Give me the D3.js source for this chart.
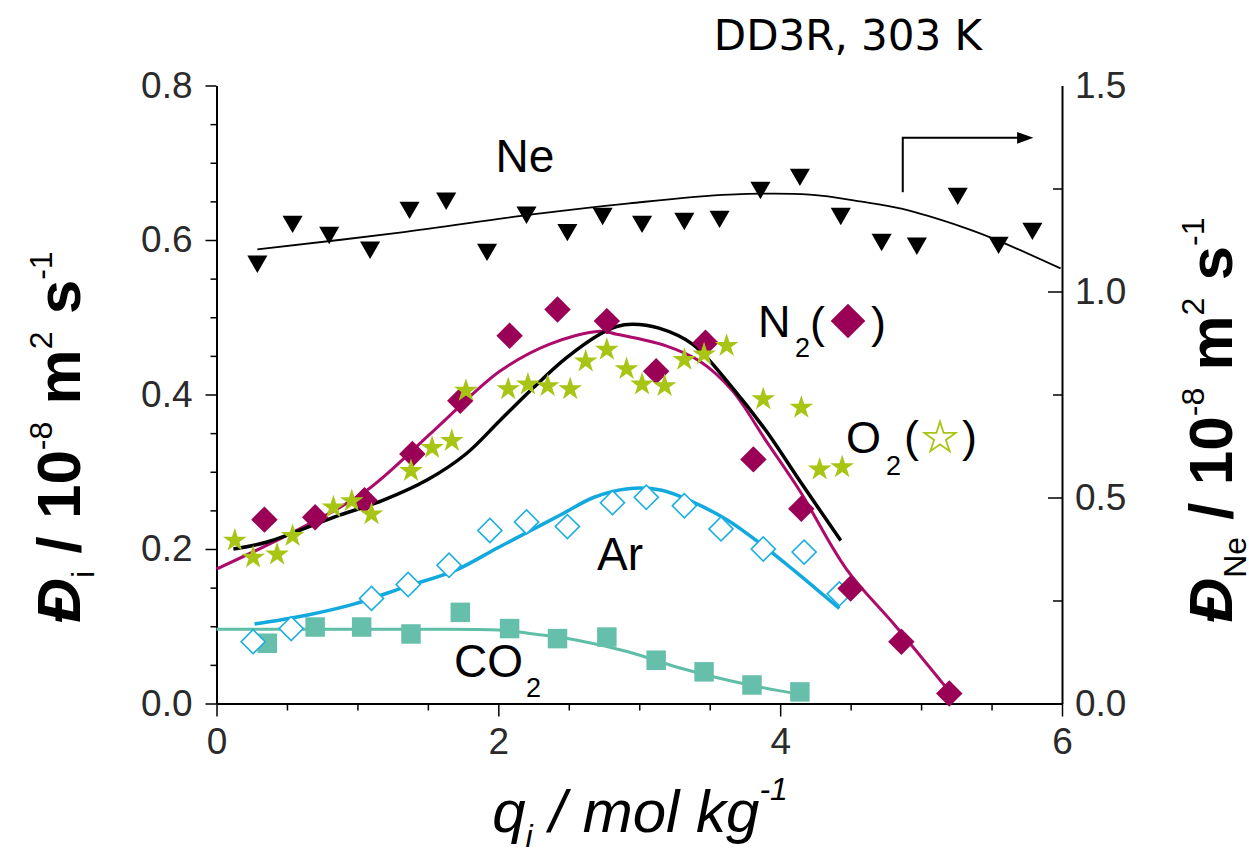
<!DOCTYPE html>
<html>
<head>
<meta charset="utf-8">
<script src="https://cdn.jsdelivr.net/npm/d3@7"></script>
<style>
  body { margin: 0; background: #fff; }
  svg { display: block; }
</style>
</head>
<body>
<svg></svg>
<script>
// Ne (right axis), triangles
const neX = [0.29, 0.54, 0.80, 1.09, 1.37, 1.63, 1.92, 2.20, 2.49, 2.74, 3.02, 3.32, 3.57, 3.86, 4.14, 4.43, 4.72, 4.97, 5.26, 5.55, 5.79];
const neY = [1.073, 1.170, 1.143, 1.107, 1.204, 1.226, 1.102, 1.192, 1.150, 1.189, 1.170, 1.177, 1.182, 1.252, 1.284, 1.189, 1.126, 1.117, 1.238, 1.119, 1.153];
const neLineX = [0.29, 1.30, 2.24, 2.93, 3.64, 4.21, 4.58, 4.86, 5.29, 5.53, 5.99];
const neLineY = [1.102, 1.143, 1.187, 1.214, 1.235, 1.235, 1.218, 1.201, 1.157, 1.126, 1.056];

// N2, filled diamonds
const n2X = [0.34, 0.70, 1.05, 1.39, 1.73, 2.08, 2.42, 2.77, 3.12, 3.47, 3.81, 4.15, 4.50, 4.86, 5.20];
const n2Y = [0.238, 0.241, 0.263, 0.323, 0.392, 0.476, 0.510, 0.495, 0.430, 0.467, 0.316, 0.252, 0.149, 0.080, 0.013];
const n2LineX = [0.0, 0.59, 1.06, 1.54, 2.01, 2.36, 2.72, 2.84, 3.19, 3.43, 3.66, 3.90, 4.14, 4.47, 4.82, 5.23];
const n2LineY = [0.174, 0.226, 0.275, 0.353, 0.430, 0.465, 0.482, 0.478, 0.463, 0.443, 0.405, 0.340, 0.275, 0.174, 0.100, 0.009];

// O2, stars
const o2X = [0.13, 0.26, 0.43, 0.54, 0.83, 0.96, 1.10, 1.38, 1.53, 1.67, 1.77, 2.07, 2.21, 2.35, 2.51, 2.62, 2.77, 2.91, 3.02, 3.18, 3.32, 3.46, 3.62, 3.88, 4.15, 4.28, 4.44];
const o2Y = [0.211, 0.189, 0.193, 0.217, 0.254, 0.262, 0.245, 0.301, 0.331, 0.340, 0.405, 0.407, 0.413, 0.411, 0.407, 0.443, 0.458, 0.433, 0.413, 0.411, 0.445, 0.452, 0.463, 0.394, 0.383, 0.303, 0.306];
const o2LineX = [0.12, 0.36, 0.83, 1.18, 1.50, 1.77, 2.01, 2.25, 2.48, 2.72, 2.84, 2.95, 3.14, 3.38, 3.66, 3.90, 4.14, 4.43];
const o2LineY = [0.200, 0.209, 0.241, 0.263, 0.290, 0.323, 0.366, 0.409, 0.447, 0.478, 0.488, 0.491, 0.486, 0.465, 0.409, 0.353, 0.288, 0.211];

// Ar, open diamonds
const arX = [0.26, 0.53, 1.10, 1.36, 1.65, 1.94, 2.20, 2.49, 2.81, 3.05, 3.32, 3.58, 3.88, 4.17, 4.42];
const arY = [0.080, 0.097, 0.136, 0.154, 0.179, 0.224, 0.235, 0.229, 0.260, 0.267, 0.256, 0.226, 0.200, 0.196, 0.142];
const arLineX = [0.27, 0.63, 0.98, 1.34, 1.69, 2.00, 2.21, 2.45, 2.68, 2.92, 3.16, 3.39, 3.63, 3.86, 4.10, 4.31, 4.42];
const arLineY = [0.103, 0.114, 0.129, 0.151, 0.172, 0.202, 0.222, 0.245, 0.267, 0.278, 0.276, 0.260, 0.237, 0.207, 0.172, 0.140, 0.123];

// CO2, filled squares
const co2X = [0.36, 0.70, 1.03, 1.38, 1.73, 2.08, 2.42, 2.77, 3.12, 3.46, 3.80, 4.14];
const co2Y = [0.078, 0.099, 0.099, 0.090, 0.118, 0.097, 0.084, 0.086, 0.056, 0.041, 0.024, 0.015];
const co2LineX = [0.0, 1.34, 2.00, 2.21, 2.56, 2.92, 3.27, 3.63, 3.98, 4.19];
const co2LineY = [0.096, 0.096, 0.095, 0.091, 0.082, 0.067, 0.047, 0.030, 0.017, 0.011];

// ticks
const xMajor = [0, 2, 4, 6];
const xMinor = [0.5, 1, 1.5, 2.5, 3, 3.5, 4.5, 5, 5.5];
const yMajor = [0, 0.2, 0.4, 0.6, 0.8];
const yMinor = [0.05, 0.1, 0.15, 0.25, 0.3, 0.35, 0.45, 0.5, 0.55, 0.65, 0.7, 0.75];
const y2Major = [0, 0.5, 1.0, 1.5];
const y2Minor = [0.25, 0.75, 1.25];

const width = 1249, height = 866;
const margin = { top: 85.5, right: 187, bottom: 162.5, left: 216.5 };
const innerWidth = width - margin.left - margin.right;
const innerHeight = height - margin.top - margin.bottom;
const sans = '"Liberation Sans", Arial, sans-serif';

const svg = d3.select('svg').attr('width', width).attr('height', height);
const g = svg.append('g').attr('transform', `translate(${margin.left},${margin.top})`);

const xScale = d3.scaleLinear().domain([0, 6]).range([0, innerWidth]);
const yScale = d3.scaleLinear().domain([0, 0.8]).range([innerHeight, 0]);
const y2Scale = d3.scaleLinear().domain([0, 1.5]).range([innerHeight, 0]);

const zip = (xs, ys) => xs.map((x, i) => [x, ys[i]]);

// axes
const styleAxis = (sel) => {
  sel.attr('font-family', sans).attr('font-size', 37);
  sel.select('.domain').attr('stroke', '#000').attr('stroke-width', 2);
  sel.selectAll('.tick line').attr('stroke', '#000').attr('stroke-width', 1.5);
  sel.selectAll('.tick text').attr('fill', '#2a2a2a');
};
const minorTicks = (sel) => {
  sel.select('.domain').remove();
  sel.selectAll('line').attr('stroke', '#000').attr('stroke-width', 1.5);
};

g.append('g').attr('transform', `translate(0,${innerHeight})`)
  .call(d3.axisBottom(xScale).tickValues(xMinor).tickSize(7).tickFormat(''))
  .call(minorTicks);
g.append('g').attr('transform', `translate(0,${innerHeight})`)
  .call(d3.axisBottom(xScale).tickValues(xMajor).tickSize(13).tickSizeOuter(0).tickPadding(11).tickFormat(d3.format('d')))
  .call(styleAxis);

g.append('g')
  .call(d3.axisLeft(yScale).tickValues(yMinor).tickSize(6).tickFormat(''))
  .call(minorTicks);
g.append('g')
  .call(d3.axisLeft(yScale).tickValues(yMajor).tickSize(11).tickSizeOuter(0).tickPadding(13).tickFormat(d3.format('.1f')))
  .call(styleAxis);

g.append('g').attr('transform', `translate(${innerWidth},0)`)
  .call(d3.axisLeft(y2Scale).tickValues(y2Minor).tickSize(9).tickFormat(''))
  .call(minorTicks);
g.append('g').attr('transform', `translate(${innerWidth},0)`)
  .call(d3.axisLeft(y2Scale).tickValues(y2Major.slice(1, 3)).tickSize(14).tickFormat(''))
  .call(minorTicks);
g.append('g').attr('transform', `translate(${innerWidth},0)`)
  .call(d3.axisRight(y2Scale).tickValues(y2Major).tickSize(0).tickSizeOuter(0).tickPadding(13).tickFormat(d3.format('.1f')))
  .call(styleAxis);

// lines
const line = (ys) => d3.line().x(d => xScale(d[0])).y(d => ys(d[1])).curve(d3.curveCatmullRom.alpha(0.5));
const drawLine = (pts, ys, color, w) => g.append('path').datum(pts)
  .attr('d', line(ys)).attr('fill', 'none').attr('stroke', color).attr('stroke-width', w);

drawLine(zip(neLineX, neLineY), y2Scale, '#000', 1.8);
drawLine(zip(co2LineX, co2LineY), yScale, '#5fbfa6', 3);
drawLine(zip(arLineX, arLineY), yScale, '#12a9de', 3.5);
drawLine(zip(n2LineX, n2LineY), yScale, '#ad0b6c', 3);
drawLine(zip(o2LineX, o2LineY), yScale, '#000', 3.5);

// markers
const drawPts = (pts, ys, type, size, fill, stroke, rot, sw) => g.selectAll(null).data(pts).enter().append('path')
  .attr('d', d3.symbol().type(type).size(size))
  .attr('transform', d => `translate(${xScale(d[0])},${ys(d[1])}) rotate(${rot})`)
  .attr('fill', fill).attr('stroke', stroke).attr('stroke-width', sw || 0);

drawPts(zip(co2X, co2Y), yScale, d3.symbolSquare, 380, '#66bfaa', 'none', 0);
drawPts(zip(arX, arY), yScale, d3.symbolSquare, 290, '#fff', '#1aaee2', 45, 1.6);
drawPts(zip(n2X, n2Y), yScale, d3.symbolSquare, 350, '#9b0057', 'none', 45);
drawPts(zip(o2X, o2Y), yScale, d3.symbolStar, 175, '#a8c414', 'none', 0);
drawPts(zip(neX, neY), y2Scale, d3.symbolTriangle, 175, '#000', 'none', 180);

// arrow pointing to right axis
const arrowPts = [[4.87, 1.241], [4.87, 1.373], [5.70, 1.373]];
g.append('path').datum(arrowPts)
  .attr('d', d3.line().x(d => xScale(d[0])).y(d => y2Scale(d[1])))
  .attr('fill', 'none').attr('stroke', '#000').attr('stroke-width', 2);
g.append('path')
  .attr('d', d3.symbol().type(d3.symbolTriangle).size(60))
  .attr('transform', `translate(${xScale(5.72)},${y2Scale(1.373)}) rotate(90) scale(1,1.6)`)
  .attr('fill', '#000');

// series labels
const lbl = svg.append('g').attr('font-family', sans).attr('fill', '#000');
const addText = (x, y, t, fs, anchor) => lbl.append('text').attr('x', x).attr('y', y)
  .attr('font-size', fs).attr('text-anchor', anchor || 'start').text(t);

addText(525, 172, 'Ne', 46, 'middle');
addText(620, 570, 'Ar', 46, 'middle');
addText(454, 677, 'CO', 46);
addText(526, 697, '2', 27);

addText(758, 337, 'N', 45);
addText(795, 357, '2', 27);
addText(810, 338, '(', 45);
addText(871, 338, ')', 45);
lbl.append('path').attr('d', d3.symbol().type(d3.symbolSquare).size(600)())
  .attr('transform', 'translate(848,321) rotate(45)').attr('fill', '#9b0057');

addText(846, 453, 'O', 45);
addText(886, 475, '2', 27);
addText(904, 452, '(', 45);
addText(962, 452, ')', 45);
lbl.append('path').attr('d', d3.symbol().type(d3.symbolStar).size(300)())
  .attr('transform', 'translate(940,438)').attr('fill', 'none').attr('stroke', '#a8c414').attr('stroke-width', 1.8);

// title
svg.append('text').attr('x', 848).attr('y', 50).attr('text-anchor', 'middle')
  .attr('font-family', '"DejaVu Sans", Verdana, sans-serif').attr('font-size', 42)
  .text('DD3R, 303 K');

// axis titles
const xt = svg.append('text').attr('x', 640).attr('y', 832).attr('text-anchor', 'middle')
  .attr('font-family', sans).attr('font-style', 'italic').attr('font-size', 60);
xt.append('tspan').text('q');
xt.append('tspan').attr('dy', 15).attr('font-size', 32).text('i');
xt.append('tspan').attr('dy', -15).text(' / mol kg');
xt.append('tspan').attr('dy', -32).attr('font-size', 32).text('-1');

const yTitle = (x, y, sub) => {
  const t = svg.append('text').attr('transform', `translate(${x},${y}) rotate(-90)`).attr('text-anchor', 'middle')
    .attr('font-family', sans).attr('font-weight', 'bold').attr('font-size', 62);
  t.append('tspan').attr('font-style', 'italic').text('Đ');
  t.append('tspan').attr('dy', 14).attr('font-size', 32).attr('font-weight', 'normal').text(sub);
  t.append('tspan').attr('dy', -14).text(' / 10');
  t.append('tspan').attr('dy', -28).attr('font-size', 32).attr('font-weight', 'normal').text('-8');
  t.append('tspan').attr('dy', 28).text(' m');
  t.append('tspan').attr('dy', -28).attr('font-size', 32).attr('font-weight', 'normal').text('2');
  t.append('tspan').attr('dy', 28).text(' s');
  t.append('tspan').attr('dy', -28).attr('font-size', 32).attr('font-weight', 'normal').text('-1');
};
yTitle(80, 437, 'i');
yTitle(1232, 420, 'Ne');
</script>
</body>
</html>
